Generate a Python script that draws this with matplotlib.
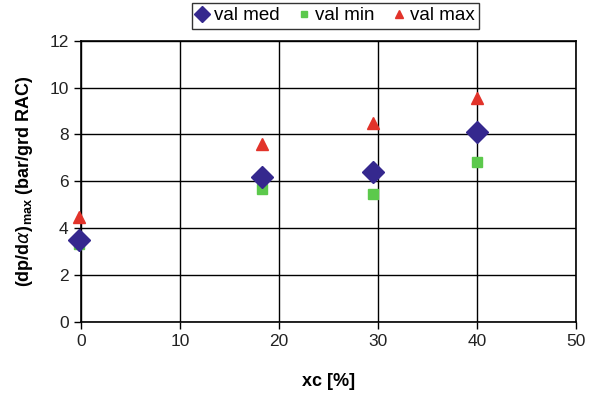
import matplotlib.pyplot as plt
from matplotlib.ticker import MultipleLocator

plt.rcParams['font.family'] = ['Liberation Sans', 'DejaVu Sans']
plt.rcParams['mathtext.fontset'] = 'custom'
plt.rcParams['mathtext.rm'] = 'Liberation Sans:bold'
plt.rcParams['mathtext.bf'] = 'Liberation Sans:bold'

# xc [%] and peak pressure rise per crank degree
xc = [-0.2, 18.3, 29.5, 40.0]
val_med = [3.5, 6.2, 6.4, 8.1]
val_min = [3.3, 5.65, 5.45, 6.8]
val_max = [4.45, 7.6, 8.5, 9.55]

fig = plt.figure(figsize=(5.93, 3.95), dpi=100)
ax = fig.add_axes([0.1366, 0.1856, 0.8347, 0.7114])

ax.plot(xc, val_med, linestyle='none', marker='D', markersize=11,
        color='#35288e', label='val med', clip_on=False, zorder=4)
ax.plot(xc, val_min, linestyle='none', marker='s', markersize=6.5,
        color='#5cc94c', label='val min', clip_on=False, zorder=3)
ax.plot(xc, val_max, linestyle='none', marker='^', markersize=8,
        color='#e2332a', label='val max', clip_on=False, zorder=3)

ax.set_xlim(0, 50)
ax.set_ylim(0, 12)
ax.xaxis.set_major_locator(MultipleLocator(10))
ax.yaxis.set_major_locator(MultipleLocator(2))
ax.grid(True, color='black', linewidth=1.0)
ax.set_axisbelow(True)
for s in ax.spines.values():
    s.set_color('black')
    s.set_linewidth(1.2)
ax.tick_params(direction='out', length=5, width=1, labelsize=12.5, pad=4,
               colors='black', labelcolor='#222222')

ax.set_xlabel('xc [%]', fontsize=13, fontweight='bold', labelpad=17)
ax.set_ylabel(r'(dp/d$\alpha$)$_{\mathbf{max}}$ (bar/grd RAC)', fontsize=13,
              fontweight='bold', labelpad=10)

leg = fig.legend(loc='center', bbox_to_anchor=(0.566, 0.96), ncol=3,
                 fontsize=13.5, frameon=True, fancybox=False, markerscale=0.7,
                 handlelength=0.6, handletextpad=0.3, columnspacing=1.0,
                 borderpad=0.25)
leg.get_frame().set_edgecolor('black')
leg.get_frame().set_linewidth(1.0)

fig.savefig('out.png', dpi=100)
